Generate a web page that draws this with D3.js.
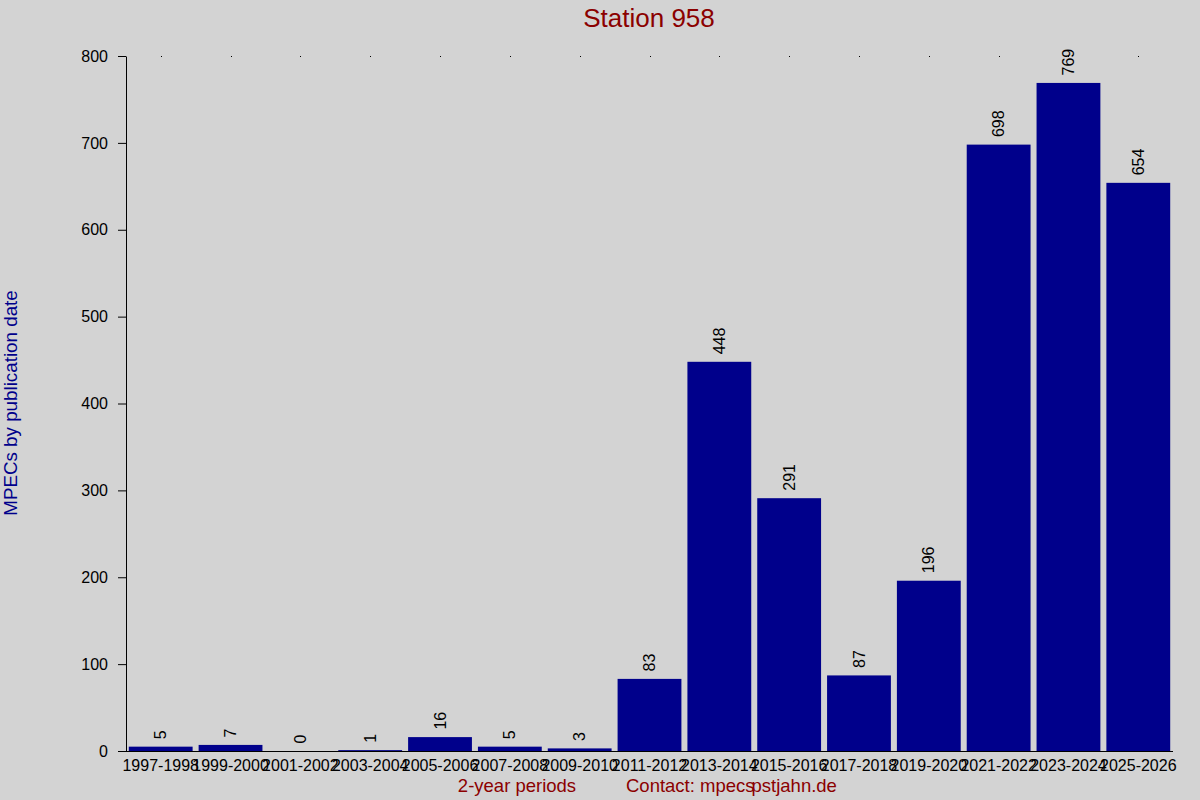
<!DOCTYPE html>
<html>
<head>
<meta charset="utf-8">
<script src="https://cdn.jsdelivr.net/npm/d3@7"></script>
<style>
  body { margin: 0; background: #d3d3d3; }
  svg { display: block; font-family: "Liberation Sans", Arial, sans-serif; }
</style>
</head>
<body>
<svg width="1200" height="800"></svg>
<script>
var periods = ["1997-1998", "1999-2000", "2001-2002", "2003-2004", "2005-2006",
               "2007-2008", "2009-2010", "2011-2012", "2013-2014", "2015-2016",
               "2017-2018", "2019-2020", "2021-2022", "2023-2024", "2025-2026"];
var counts = [5, 7, 0, 1, 16, 5, 3, 83, 448, 291, 87, 196, 698, 769, 654];
var yTicks = [0, 100, 200, 300, 400, 500, 600, 700, 800];

var svg = d3.select("svg");
svg.append("rect").attr("width", 1200).attr("height", 800).attr("fill", "#d3d3d3");

// plot edges (named to avoid clashing with window.top)
var plotLeft = 126, plotRight = 1173, plotTop = 56, plotBottom = 751;

var x = d3.scaleBand()
    .domain(periods)
    .range([plotLeft, plotRight])
    .paddingInner(0.086)
    .paddingOuter(0.04);

var y = d3.scaleLinear()
    .domain([0, 800])
    .range([plotBottom, plotTop]);

// bars
svg.append("g")
  .selectAll("rect")
  .data(counts)
  .enter().append("rect")
    .attr("x", function (d, i) { return x(periods[i]); })
    .attr("width", x.bandwidth())
    .attr("y", function (d) { return y(d); })
    .attr("height", function (d) { return plotBottom - y(d); })
    .attr("fill", "#00008b");

// value labels, rotated
svg.append("g")
  .selectAll("text")
  .data(counts)
  .enter().append("text")
    .attr("transform", function (d, i) {
      return "translate(" + (x(periods[i]) + x.bandwidth() / 2) + "," + (y(d) - 7.5) + ") rotate(-90)";
    })
    .attr("dy", "0.35em")
    .style("font-size", "16px")
    .attr("fill", "#000")
    .text(function (d) { return d; });

// y axis
var yAxis = svg.append("g")
    .attr("transform", "translate(" + plotLeft + ",0)")
    .call(d3.axisLeft(y).tickValues(yTicks).tickSize(8).tickPadding(10).tickSizeOuter(0));
yAxis.select(".domain").attr("stroke", "#000");
yAxis.selectAll("text").style("font-size", "16px").attr("fill", "#000").attr("font-family", null);

// x axis: line + labels, no tick marks
var xAxis = svg.append("g")
    .attr("transform", "translate(0," + plotBottom + ")")
    .call(d3.axisBottom(x).tickSize(0).tickPadding(9).tickSizeOuter(0));
xAxis.select(".domain").attr("d", "M" + (plotLeft - 8) + ",0.5H" + plotRight).attr("stroke", "#000");
xAxis.selectAll("text").style("font-size", "16px").attr("fill", "#000").attr("font-family", null);

// small marks on the top edge at each category
svg.append("g")
  .selectAll("rect")
  .data(periods)
  .enter().append("rect")
    .attr("x", function (d) { return Math.round(x(d) + x.bandwidth() / 2); })
    .attr("y", plotTop)
    .attr("width", 1).attr("height", 1)
    .attr("fill", "#000");

// titles
svg.append("text")
    .attr("x", 649).attr("y", 27)
    .attr("text-anchor", "middle")
    .style("font-size", "26px")
    .attr("fill", "#8b0000")
    .text("Station 958");

svg.append("text")
    .attr("transform", "translate(17,403) rotate(-90)")
    .attr("text-anchor", "middle")
    .style("font-size", "18.8px")
    .attr("fill", "#00008b")
    .text("MPECs by publication date");

svg.append("text")
    .attr("x", 517).attr("y", 792)
    .attr("text-anchor", "middle")
    .style("font-size", "18.5px")
    .attr("fill", "#8b0000")
    .text("2-year periods");

var contact = svg.append("text")
    .attr("x", 626).attr("y", 792)
    .style("font-size", "18.5px")
    .attr("fill", "#8b0000");
contact.append("tspan").text("Contact: mpecs");
contact.append("tspan").attr("dx", -3).text("pstjahn.de");
</script>
</body>
</html>
